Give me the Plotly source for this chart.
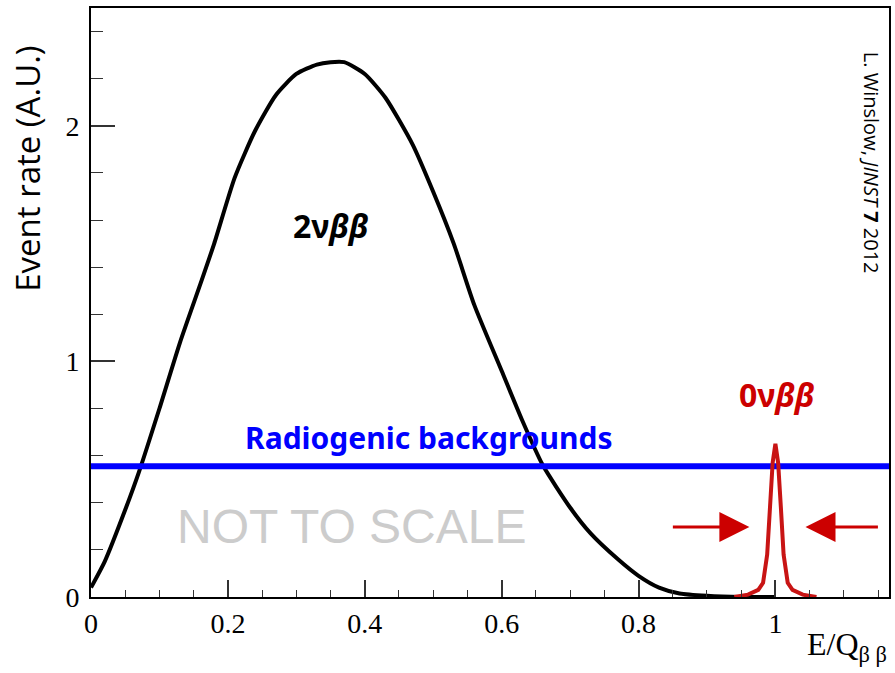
import plotly.graph_objects as go

# ---- data ----
x_2nu = [0.0, 0.02, 0.05, 0.07, 0.10, 0.13, 0.16, 0.18, 0.21, 0.24, 0.27, 0.30, 0.33, 0.35,
         0.37, 0.40, 0.43, 0.47, 0.50, 0.53, 0.56, 0.60, 0.63, 0.66, 0.70, 0.73, 0.77,
         0.80, 0.83, 0.86, 0.90, 0.95, 1.00]
y_2nu = [0.04, 0.15, 0.37, 0.53, 0.80, 1.08, 1.33, 1.50, 1.78, 1.98, 2.13, 2.22, 2.26, 2.27,
         2.27, 2.22, 2.12, 1.92, 1.72, 1.50, 1.24, 0.96, 0.75, 0.56, 0.38, 0.27, 0.16,
         0.09, 0.04, 0.015, 0.005, 0.0, 0.0]

x_0nu = [0.94, 0.96, 0.975, 0.982, 0.988, 0.992, 0.996, 1.0, 1.004, 1.008, 1.012, 1.018,
         1.025, 1.04, 1.06]
y_0nu = [0.0, 0.01, 0.03, 0.06, 0.18, 0.38, 0.57, 0.65, 0.57, 0.38, 0.18, 0.06, 0.03,
         0.01, 0.0]

bg_level = 0.555
x_range = [0.0, 1.166]
y_range = [0.0, 2.5]

x_ticks = [0, 0.2, 0.4, 0.6, 0.8, 1.0]
x_tick_labels = ["0", "0.2", "0.4", "0.6", "0.8", "1"]
y_ticks = [0, 1, 2]
y_tick_labels = ["0", "1", "2"]

# arrow positions (head x, tail x, y) around the peak
arrow_left = (0.962, 0.848, 0.297)
arrow_right = (1.044, 1.152, 0.297)

RED = "#c81414"
ARROW_RED = "#cc0000"
BLUE = "#0000ff"

fig = go.Figure()

fig.add_trace(go.Scatter(x=x_2nu, y=y_2nu, mode="lines",
                         line=dict(color="black", width=4, shape="spline", smoothing=0.6),
                         showlegend=False, hoverinfo="skip"))
fig.add_trace(go.Scatter(x=x_range, y=[bg_level, bg_level], mode="lines",
                         line=dict(color=BLUE, width=6),
                         showlegend=False, hoverinfo="skip"))
fig.add_trace(go.Scatter(x=x_0nu, y=y_0nu, mode="lines",
                         line=dict(color=RED, width=4),
                         showlegend=False, hoverinfo="skip"))

tickfont = dict(family="Liberation Serif", size=28, color="black")

fig.update_xaxes(range=x_range, tickvals=x_ticks, ticktext=x_tick_labels,
                 ticks="inside", ticklen=17, tickwidth=1.5, tickcolor="#333",
                 minor=dict(dtick=0.05, ticks="inside", ticklen=7, tickwidth=1.2, tickcolor="#333"),
                 showline=True, linewidth=2, linecolor="black", mirror=True,
                 showgrid=False, zeroline=False, tickfont=tickfont, ticklabelstandoff=0)
fig.update_yaxes(range=y_range, tickvals=y_ticks, ticktext=y_tick_labels,
                 ticks="inside", ticklen=24, tickwidth=1.5, tickcolor="#333",
                 minor=dict(dtick=0.2, ticks="inside", ticklen=12, tickwidth=1.2, tickcolor="#333"),
                 showline=True, linewidth=2, linecolor="black", mirror=True,
                 showgrid=False, zeroline=False, tickfont=tickfont, ticklabelstandoff=4)

annotations = [
    dict(x=0.35, y=1.576, xref="x", yref="y", xanchor="center", yanchor="middle",
         text="<b>2ν<i>ββ</i></b>", showarrow=False,
         font=dict(family="Noto Sans", size=32, color="black")),
    dict(x=1.0025, y=0.858, xref="x", yref="y", xanchor="center", yanchor="middle",
         text="<b>0ν<i>ββ</i></b>", showarrow=False,
         font=dict(family="Noto Sans", size=32, color=ARROW_RED)),
    dict(x=0.494, y=0.679, xref="x", yref="y", xanchor="center", yanchor="middle",
         text="<b>Radiogenic backgrounds</b>", showarrow=False,
         font=dict(family="Noto Sans", size=30, color=BLUE)),
    dict(x=0.380, y=0.301, xref="x", yref="y", xanchor="center", yanchor="middle",
         text="NOT TO SCALE", showarrow=False,
         font=dict(family="Liberation Sans", size=48, color="#cccccc")),
    dict(x=0.9775, y=0.737, xref="paper", yref="paper", xanchor="center", yanchor="middle",
         text="L. Winslow, <i>JINST</i> <b>7</b> 2012",
         showarrow=False, textangle=90,
         font=dict(family="Open Sans", size=20, color="black")),
    dict(x=-0.079, y=0.727, xref="paper", yref="paper", xanchor="center", yanchor="middle",
         text="Event rate (A.U.)",
         showarrow=False, textangle=-90,
         font=dict(family="Open Sans", size=33, color="black")),
    dict(x=1.0, y=-0.046, xref="paper", yref="paper", xanchor="right", yanchor="top",
         text="E/Q<sub>β β</sub>", showarrow=False,
         font=dict(family="Liberation Serif", size=32, color="black")),
]
for hx, tx, yy in (arrow_left, arrow_right):
    annotations.append(dict(x=hx, y=yy, ax=tx, ay=yy, xref="x", yref="y", axref="x", ayref="y",
                             text="", showarrow=True, arrowhead=2, arrowsize=2.0, arrowwidth=3,
                             arrowcolor=ARROW_RED, standoff=0))

fig.update_layout(width=895, height=673, margin=dict(l=91, r=4, t=8, b=76),
                  paper_bgcolor="white", plot_bgcolor="white",
                  annotations=annotations, showlegend=False)

fig.write_html("out.html")
